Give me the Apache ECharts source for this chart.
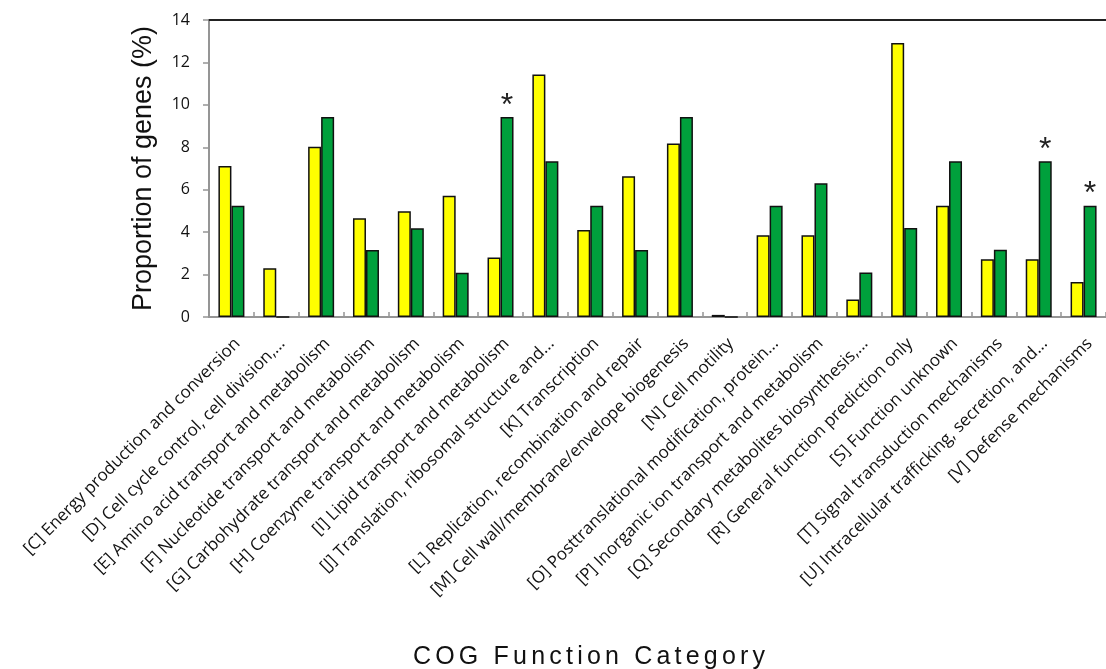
<!DOCTYPE html>
<html>
<head>
<meta charset="utf-8">
<style>
  html, body { margin: 0; padding: 0; background: #fff; }
  #chart { width: 1106px; height: 669px; }
</style>
<script src="https://cdn.jsdelivr.net/npm/echarts@6/dist/echarts.min.js"></script>
</head>
<body>
<div id="chart"></div>
<script>
// COG functional categories
const categories = [
  '[C] Energy production and conversion',
  '[D] Cell cycle control, cell division,...',
  '[E] Amino acid transport and metabolism',
  '[F] Nucleotide transport and metabolism',
  '[G] Carbohydrate transport and metabolism',
  '[H] Coenzyme transport and metabolism',
  '[I] Lipid transport and metabolism',
  '[J] Translation, ribosomal structure and...',
  '[K] Transcription',
  '[L] Replication, recombination and repair',
  '[M] Cell wall/membrane/envelope biogenesis',
  '[N] Cell motility',
  '[O] Posttranslational modification, protein...',
  '[P] Inorganic ion transport and metabolism',
  '[Q] Secondary metabolites biosynthesis,...',
  '[R] General function prediction only',
  '[S] Function unknown',
  '[T] Signal transduction mechanisms',
  '[U] Intracellular trafficking, secretion, and...',
  '[V] Defense mechanisms'
];

// Proportion of genes (%) per category
const yellowValues = [7.12, 2.30, 8.03, 4.65, 4.98, 5.72, 2.80, 11.43, 4.10, 6.64,
                      8.18, 0.10, 3.85, 3.85, 0.83, 12.92, 5.25, 2.72, 2.72, 1.65];
const greenValues  = [5.25, 0, 9.43, 3.16, 4.18, 2.09, 9.43, 7.34, 5.25, 3.16,
                      9.43, 0, 5.25, 6.31, 2.10, 4.20, 7.34, 3.17, 7.34, 5.25];

// Significance marks drawn above the green bars
const significance = ['', '', '', '', '', '', '*', '', '', '',
                      '', '', '', '', '', '', '', '', '*', '*'];

const yTicks = { min: 0, max: 14, interval: 2 };

const xTitle = 'COG Function Category';

const chart = echarts.init(document.getElementById('chart'));

const labelFont = '"Open Sans", "Noto Sans", sans-serif';
const sansFont = '"Liberation Sans", Arial, sans-serif';

// Spaced-out axis title: each character is its own rich-text run with side padding
const spacedTitle = xTitle.split('').map(ch => '{c|' + (ch === ' ' ? '\u00a0' : ch) + '}').join('');

chart.setOption({
  animation: false,
  backgroundColor: '#ffffff',
  title: {
    text: spacedTitle,
    left: 584,
    textAlign: 'center',
    top: 640,
    textStyle: {
      fontWeight: 'normal',
      rich: {
        c: {
          fontFamily: sansFont,
          fontSize: 25,
          fontWeight: 'normal',
          color: '#111',
          padding: [0, 2.1, 0, 2.1]
        }
      }
    }
  },
  grid: { left: 209, top: 20, width: 902, height: 297, containLabel: false },
  xAxis: [
    {
      type: 'category',
      data: categories,
      position: 'bottom',
      axisLine: { lineStyle: { color: '#959595', width: 2 } },
      axisTick: { show: true, inside: true, length: 5, alignWithLabel: false,
                  lineStyle: { color: '#959595', width: 1.5 } },
      axisLabel: {
        interval: 0,
        rotate: 45,
        margin: 18,
        verticalAlign: 'top',
        fontFamily: labelFont,
        fontSize: 17,
        color: '#111'
      }
    },
    {
      type: 'category',
      data: categories,
      position: 'top',
      axisLine: { lineStyle: { color: '#222', width: 2 } },
      axisTick: { show: false },
      axisLabel: { show: false }
    }
  ],
  yAxis: {
    type: 'value',
    min: yTicks.min,
    max: yTicks.max,
    interval: yTicks.interval,
    name: 'Proportion of genes (%)',
    nameLocation: 'middle',
    nameGap: 52,
    nameTextStyle: {
      fontFamily: sansFont,
      fontSize: 27,
      color: '#111'
    },
    axisLine: { show: true, lineStyle: { color: '#959595', width: 2 } },
    axisTick: { show: true, length: 6, lineStyle: { color: '#959595', width: 1.5 } },
    axisLabel: {
      fontFamily: labelFont,
      fontSize: 16,
      color: '#111',
      margin: 19
    },
    splitLine: { show: false }
  },
  series: [
    {
      type: 'bar',
      data: yellowValues,
      barWidth: 13,
      barGap: '0%',
      itemStyle: { color: '#ffff00', borderColor: '#111', borderWidth: 1.5 }
    },
    {
      type: 'bar',
      data: greenValues,
      barWidth: 13,
      barGap: '0%',
      itemStyle: { color: '#00a03c', borderColor: '#111', borderWidth: 1.5 },
      label: {
        show: true,
        position: 'top',
        distance: 2,
        formatter: p => significance[p.dataIndex],
        fontFamily: sansFont,
        fontSize: 32,
        color: '#222',
        offset: [0, 7]
      }
    }
  ]
});
</script>
</body>
</html>
